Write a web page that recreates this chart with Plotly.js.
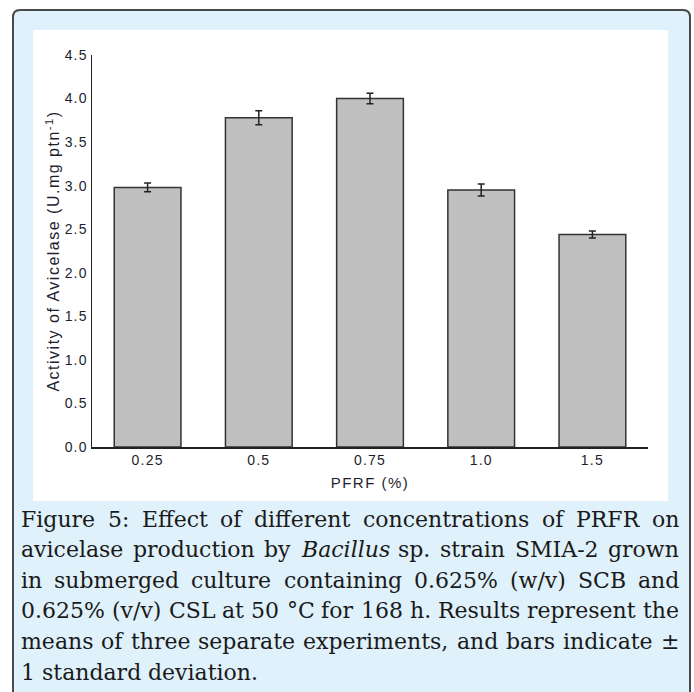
<!DOCTYPE html>
<html>
<head>
<meta charset="utf-8">
<script src="https://cdn.plot.ly/plotly-3.0.1.min.js"></script>
<style>
html,body{margin:0;padding:0;background:#ffffff;}
#chart{width:694px;height:692px;}
#chart g.xtick text, #chart g.ytick text {letter-spacing:1.2px;}
#chart text.xtitle {letter-spacing:1.5px;}
#chart text.ytitle {letter-spacing:1.5px;}
</style>
</head>
<body>
<div id="chart"></div>
<script>
// ---- data ----
const categories = ['0.25', '0.5', '0.75', '1.0', '1.5'];
const activity = [2.98, 3.78, 4.00, 2.95, 2.44];
const stdDev = [0.05, 0.08, 0.06, 0.07, 0.04];
const yTickVals = [0, 0.5, 1.0, 1.5, 2.0, 2.5, 3.0, 3.5, 4.0, 4.5];
const xTitle = 'PFRF (%)';
const yTitle = 'Activity of Avicelase (U.mg ptn<sup>-1</sup>)';
const captionLines = [
  'Figure 5:  Effect of different concentrations of PRFR on',
  'avicelase production by <i>Bacillus</i> sp. strain SMIA-2 grown',
  'in submerged culture containing 0.625% (w/v) SCB and',
  '0.625% (v/v) CSL at 50 °C for 168 h. Results represent the',
  'means of three separate experiments, and bars indicate ±',
  '1 standard deviation.'
];

// ---- layout geometry (pixels) ----
const W = 694, H = 692;
const M = {l: 92, r: 46, t: 55, b: 245};
const PW = W - M.l - M.r, PH = H - M.t - M.b;
const px = x => (x - M.l) / PW;
const py = y => (H - M.b - y) / PH;

// outer rounded frame
const fx0 = 13, fy0 = 10, fx1 = 690, fy1 = 730, rr = 7;
const framePath = [
  'M', px(fx0), py(fy1),
  'L', px(fx0), py(fy0 + rr),
  'Q', px(fx0), py(fy0), px(fx0 + rr), py(fy0),
  'L', px(fx1 - rr), py(fy0),
  'Q', px(fx1), py(fy0), px(fx1), py(fy0 + rr),
  'L', px(fx1), py(fy1)
].join(' ');

const shapes = [
  {type: 'path', xref: 'paper', yref: 'paper', layer: 'below', path: framePath + ' Z',
   fillcolor: '#dff1fa', line: {color: '#4a4a4a', width: 2}},
  {type: 'rect', xref: 'paper', yref: 'paper', layer: 'below',
   x0: px(33), x1: px(668), y0: py(501), y1: py(30),
   fillcolor: '#ffffff', line: {width: 0}}
];

// ---- justified caption built from word annotations ----
const capFont = 'DejaVu Serif';
const capSize = 22;
const capLeft = 20, capRight = 678;
const capBase0 = 526, capStep = 30.6;
const cv = document.createElement('canvas');
const ctx = cv.getContext('2d');
function wordWidth(w) {
  const it = w.indexOf('<i>') >= 0;
  const plain = w.replace(/<\/?i>/g, '');
  ctx.font = (it ? 'italic ' : '') + capSize + "px '" + capFont + "'";
  return ctx.measureText(plain).width;
}
ctx.font = capSize + "px '" + capFont + "'";
const spaceW = ctx.measureText(' ').width;

const annotations = [];
captionLines.forEach((line, li) => {
  const words = line.split(/\s+/);
  const widths = words.map(wordWidth);
  const total = widths.reduce((a, b) => a + b, 0);
  const last = li === captionLines.length - 1;
  const gap = last ? spaceW : (capRight - capLeft - total) / (words.length - 1);
  let x = capLeft;
  const yc = capBase0 + li * capStep - 7;
  words.forEach((w, wi) => {
    annotations.push({
      xref: 'paper', yref: 'paper', x: px(x - 1), y: py(yc),
      xanchor: 'left', yanchor: 'middle', showarrow: false,
      text: w, font: {family: capFont, size: capSize, color: '#1a1a1a'}
    });
    x += widths[wi] + gap;
  });
});

const trace = {
  type: 'bar',
  x: categories,
  y: activity,
  marker: {color: '#c0c0c0', line: {color: '#333333', width: 1.5}},
  error_y: {type: 'data', array: stdDev, visible: true, color: '#222222', thickness: 1.5, width: 3.5},
  hoverinfo: 'none'
};

const tickFont = {family: 'Liberation Sans, Arial, sans-serif', size: 14, color: '#1e1e2e'};
const titleFontX = {family: 'Liberation Sans, Arial, sans-serif', size: 15, color: '#1e1e2e'};
const titleFontY = {family: 'Liberation Sans, Arial, sans-serif', size: 16, color: '#1e1e2e'};

const layout = {
  width: W, height: H,
  margin: M,
  paper_bgcolor: '#ffffff',
  plot_bgcolor: 'rgba(0,0,0,0)',
  showlegend: false,
  bargap: 0.4,
  shapes: shapes,
  annotations: annotations,
  xaxis: {
    type: 'category',
    showline: true, linecolor: '#222222', linewidth: 1.5,
    ticks: '', showgrid: false, zeroline: false,
    tickfont: tickFont,
    title: {text: xTitle, font: titleFontX, standoff: 10}
  },
  yaxis: {
    range: [0, 4.5],
    tickvals: yTickVals, tickformat: '.1f',
    showline: true, linecolor: '#222222', linewidth: 1.5,
    ticks: '', ticklen: 0, showgrid: false, zeroline: false,
    tickfont: tickFont,
    title: {text: yTitle, font: titleFontY, standoff: 4}
  }
};

Plotly.newPlot('chart', [trace], layout, {displayModeBar: false, staticPlot: true});
</script>
</body>
</html>
